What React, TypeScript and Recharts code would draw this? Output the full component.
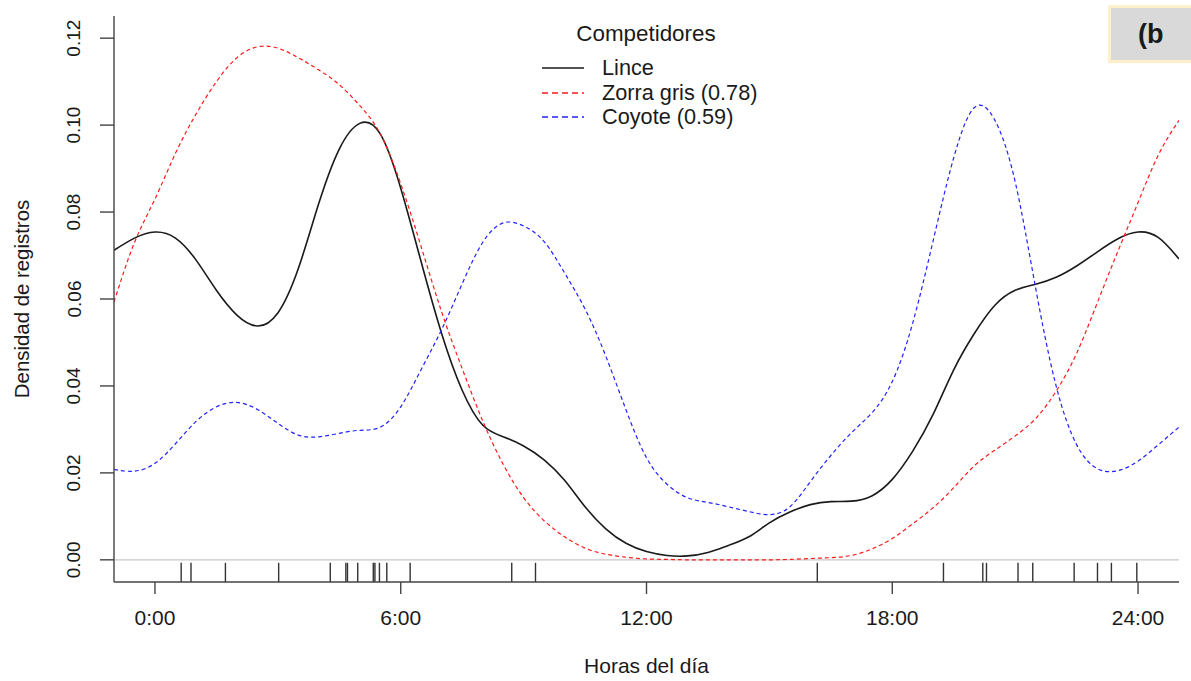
import { ComposedChart, Line, Scatter, XAxis, YAxis, ReferenceLine, Legend } from "recharts";

// hours of the day, sampled every half hour (the density wraps past 0 and 24)
const hours = [
  -1, -0.5, 0, 0.5, 1, 1.5, 2, 2.5, 3, 3.5, 4, 4.5, 5, 5.5, 6, 6.5, 7, 7.5, 8, 8.5,
  9, 9.5, 10, 10.5, 11, 11.5, 12, 12.5, 13, 13.5, 14, 14.5, 15, 15.5, 16, 16.5, 17,
  17.5, 18, 18.5, 19, 19.5, 20, 20.5, 21, 21.5, 22, 22.5, 23, 23.5, 24, 24.5, 25,
];

const lince = [
  0.0712, 0.074, 0.0754, 0.074, 0.069, 0.062, 0.0563, 0.0538, 0.0568, 0.067, 0.082,
  0.0945, 0.1004, 0.098, 0.0855, 0.0685, 0.052, 0.039, 0.031, 0.0283, 0.0262, 0.023,
  0.0183, 0.0122, 0.0072, 0.0038, 0.0019, 0.001, 0.0009, 0.0017, 0.0033, 0.0053,
  0.0085, 0.011, 0.0127, 0.0134, 0.0135, 0.0147, 0.0185, 0.025, 0.0335, 0.0437,
  0.052, 0.0585, 0.062, 0.0634, 0.065, 0.0676, 0.0708, 0.0738, 0.0754, 0.0741, 0.0692,
];

const zorraGris = [
  0.0593, 0.073, 0.083, 0.0935, 0.1025, 0.11, 0.1155, 0.118, 0.1177, 0.1155, 0.1127,
  0.1093, 0.1045, 0.098, 0.0865, 0.072, 0.057, 0.044, 0.032, 0.022, 0.0143, 0.009,
  0.0053, 0.0027, 0.0013, 0.0006, 0.0002, 0.0001, 0, 0, 0, 0, 0, 0.0001, 0.0003,
  0.0005, 0.001, 0.0025, 0.0049, 0.0083, 0.012, 0.0166, 0.0216, 0.0252, 0.0285,
  0.0325, 0.0388, 0.0475, 0.059, 0.0708, 0.0822, 0.0932, 0.1011,
];

const coyote = [
  0.0208, 0.0204, 0.0222, 0.0267, 0.0318, 0.0352, 0.0362, 0.0346, 0.0314, 0.0287,
  0.0283, 0.0291, 0.0298, 0.0305, 0.0352, 0.0438, 0.053, 0.0635, 0.073, 0.0775,
  0.0768, 0.0732, 0.066, 0.0577, 0.047, 0.0345, 0.0235, 0.0174, 0.0143, 0.0132,
  0.0122, 0.0111, 0.0104, 0.0122, 0.018, 0.024, 0.0292, 0.0338, 0.041, 0.0545,
  0.0735, 0.0925, 0.104, 0.1012, 0.087, 0.0625, 0.04, 0.0265, 0.021, 0.0205, 0.0227,
  0.0265, 0.0305,
];

// individual lynx records (rug along the baseline)
const rugHours = [
  0.64, 0.88, 1.72, 3.02, 4.28, 4.66, 4.7, 4.95, 5.33, 5.37, 5.48, 5.66, 6.23, 8.71,
  9.29, 16.17, 19.25, 20.21, 20.3, 21.07, 21.43, 22.44, 23.01, 23.35, 23.97,
];

const xTicks = [0, 6, 12, 18, 24];
const xTickLabels = ["0:00", "6:00", "12:00", "18:00", "24:00"];
const yTicks = [0, 0.02, 0.04, 0.06, 0.08, 0.1, 0.12];
const yTickLabels = ["0.00", "0.02", "0.04", "0.06", "0.08", "0.10", "0.12"];

const seriesNames = ["Lince", "Zorra gris (0.78)", "Coyote (0.59)"];

const data = hours.map((hour, i) => ({
  hour,
  lince: lince[i],
  zorra: zorraGris[i],
  coyote: coyote[i],
}));
const rugData = rugHours.map((hour) => ({ hour, y: 0 }));

const FONT = '"Liberation Sans", Arial, sans-serif';
const INK = "#1a1a1a";
const RED = "#ff1a1a";
const BLUE = "#2222ff";

const legendItems = [
  { name: seriesNames[0], color: INK, dash: undefined },
  { name: seriesNames[1], color: RED, dash: "6 4" },
  { name: seriesNames[2], color: BLUE, dash: "6 4" },
];

const YTick = (props: any) => {
  const { y, payload } = props;
  const idx = yTicks.indexOf(payload.value);
  return (
    <text
      x={74}
      y={y}
      transform={`rotate(-90 74 ${y})`}
      textAnchor="middle"
      dominantBaseline="central"
      fill={INK}
      fontSize={19}
      fontFamily={FONT}
    >
      {idx >= 0 ? yTickLabels[idx] : payload.value}
    </text>
  );
};

const YTitle = (props: any) => {
  const vb = props.viewBox || { y: 16, height: 566 };
  const cy = vb.y + vb.height / 2;
  return (
    <text
      x={22}
      y={cy}
      transform={`rotate(-90 22 ${cy})`}
      textAnchor="middle"
      dominantBaseline="central"
      fill={INK}
      fontSize={20.4}
      fontFamily={FONT}
    >
      Densidad de registros
    </text>
  );
};

const RugTick = (props: any) => {
  const { cx, cy } = props;
  return <line x1={cx} x2={cx} y1={cy + 3} y2={cy + 22} stroke="#333" strokeWidth={1.4} />;
};

const renderLegend = () => (
  <div style={{ fontFamily: FONT, color: INK, fontSize: 21.7 }}>
    <div style={{ textAlign: "center", lineHeight: "24px", fontSize: 22.4 }}>Competidores</div>
    <div style={{ marginTop: 10 }}>
      {legendItems.map((item) => (
        <div
          key={item.name}
          style={{ display: "flex", alignItems: "center", height: 24.5, paddingLeft: 12 }}
        >
          <svg width={60} height={10}>
            <line
              x1={0}
              x2={42}
              y1={5}
              y2={5}
              stroke={item.color}
              strokeWidth={1.5}
              strokeDasharray={item.dash}
            />
          </svg>
          <span style={{ whiteSpace: "nowrap" }}>{item.name}</span>
        </div>
      ))}
    </div>
  </div>
);

export default function App() {
  return (
    <div
      style={{
        position: "absolute",
        left: 0,
        top: 0,
        width: 1191,
        height: 681,
        overflow: "hidden",
        background: "#fff",
      }}
    >
      <ComposedChart
        width={1191}
        height={681}
        data={data}
        margin={{ top: 16, right: 12, bottom: 0, left: 0 }}
      >
        <XAxis
          dataKey="hour"
          type="number"
          domain={[-1, 25]}
          ticks={xTicks}
          tickFormatter={(v: number) => xTickLabels[xTicks.indexOf(v)]}
          allowDataOverflow
          height={99}
          tickSize={12}
          tickMargin={16}
          axisLine={{ stroke: "#444", strokeWidth: 1.4 }}
          tickLine={{ stroke: "#444", strokeWidth: 1.4 }}
          tick={{ fill: INK, fontSize: 21, fontFamily: FONT }}
          label={{
            value: "Horas del día",
            position: "insideBottom",
            offset: 8,
            fill: INK,
            fontSize: 21,
            fontFamily: FONT,
          }}
        />
        <YAxis
          type="number"
          domain={[-0.0051, 0.1251]}
          ticks={yTicks}
          allowDataOverflow
          width={114}
          tickSize={14}
          axisLine={{ stroke: "#444", strokeWidth: 1.4 }}
          tickLine={{ stroke: "#444", strokeWidth: 1.4 }}
          tick={<YTick />}
          label={<YTitle />}
        />
        <ReferenceLine y={0} stroke="#c8c8c8" strokeWidth={1.2} />
        <Line
          dataKey="lince"
          name={seriesNames[0]}
          type="natural"
          stroke={INK}
          strokeWidth={1.6}
          dot={false}
          activeDot={false}
          isAnimationActive={false}
        />
        <Line
          dataKey="zorra"
          name={seriesNames[1]}
          type="natural"
          stroke={RED}
          strokeWidth={1.2}
          strokeDasharray="4 3"
          dot={false}
          activeDot={false}
          isAnimationActive={false}
        />
        <Line
          dataKey="coyote"
          name={seriesNames[2]}
          type="natural"
          stroke={BLUE}
          strokeWidth={1.2}
          strokeDasharray="4 3"
          dot={false}
          activeDot={false}
          isAnimationActive={false}
        />
        <Scatter
          data={rugData}
          dataKey="y"
          shape={<RugTick />}
          isAnimationActive={false}
          legendType="none"
        />
        <Legend
          layout="vertical"
          align="center"
          verticalAlign="middle"
          wrapperStyle={{ top: 22, left: 530, width: 232 }}
          content={renderLegend}
        />
      </ComposedChart>
      <div
        style={{
          position: "absolute",
          left: 1108,
          top: 5,
          width: 100,
          height: 52,
          background: "#d9d9d9",
          border: "3px solid #fff0cc",
          fontFamily: FONT,
          fontWeight: "bold",
          fontSize: 27,
          color: INK,
          lineHeight: "52px",
          paddingLeft: 27,
          boxSizing: "content-box",
        }}
      >
        (b
      </div>
    </div>
  );
}
